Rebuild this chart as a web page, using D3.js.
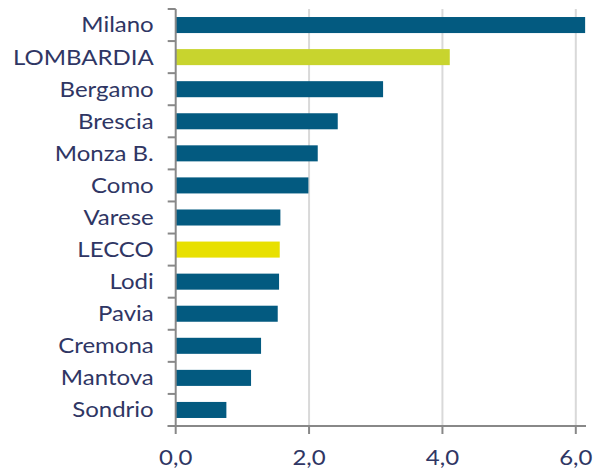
<!DOCTYPE html>
<html><head><meta charset="utf-8">
<script src="https://cdn.jsdelivr.net/npm/d3@7"></script>
<style>body{margin:0;background:#fff;} text{font-family:"Lato","Open Sans",sans-serif;font-weight:400;}</style>
</head><body><svg id="c" width="607" height="470"></svg>
<script>
const categories = ["Milano","LOMBARDIA","Bergamo","Brescia","Monza B.","Como","Varese","LECCO","Lodi","Pavia","Cremona","Mantova","Sondrio"];
const values = [6.14,4.11,3.11,2.43,2.13,1.99,1.57,1.56,1.55,1.53,1.28,1.13,0.76];
const tickValues = [0,2,4,6];
const highlight = {"LOMBARDIA":"#C8D42E","LECCO":"#E8E000"};

const svg = d3.select("#c");
const m = {left:175.7, top:9, right:586, bottom:426};
const x = d3.scaleLinear().domain([0,6.153]).range([m.left, m.right]);
const y = d3.scaleBand().domain(categories).range([m.top, m.bottom]).paddingInner(0.5).paddingOuter(0.25);
const yb = d3.scaleBand().domain(categories).range([m.top, m.bottom]);
const textCol = "#2F3664";
const sx = 1.17;

// gridlines
svg.append("g").selectAll("line").data(tickValues.filter(d=>d>0)).join("line")
  .attr("x1",d=>x(d)).attr("x2",d=>x(d)).attr("y1",m.top).attr("y2",m.bottom)
  .attr("stroke","#D9D9D9").attr("stroke-width",2);

// bars
svg.append("g").selectAll("rect").data(categories).join("rect")
  .attr("x",x(0)).attr("y",d=>y(d)).attr("height",y.bandwidth())
  .attr("width",(d,i)=>x(values[i])-x(0))
  .attr("fill",d=>highlight[d]||"#035A80");

// y axis
const yAxis = svg.append("g").attr("transform",`translate(${m.left},0)`);
yAxis.append("line").attr("x1",0).attr("x2",0).attr("y1",m.top).attr("y2",m.bottom).attr("stroke","#888").attr("stroke-width",2);
yAxis.selectAll("line.t").data(categories.concat(["_end"])).join("line").attr("class","t")
  .attr("x1",-8).attr("x2",0)
  .attr("y1",(d,i)=>m.top+i*yb.step()).attr("y2",(d,i)=>m.top+i*yb.step())
  .attr("stroke","#888").attr("stroke-width",2);
yAxis.selectAll("text").data(categories).join("text")
  .attr("transform",d=>`translate(-22,${yb(d)+yb.bandwidth()/2}) scale(${sx},1)`)
  .attr("dy","0.36em")
  .attr("text-anchor","end").attr("fill",textCol).attr("font-size",20.5).text(d=>d);

// x axis
const xAxis = svg.append("g").attr("transform",`translate(0,${m.bottom})`);
xAxis.append("line").attr("x1",m.left-8).attr("x2",m.right).attr("stroke","#888").attr("stroke-width",2);
xAxis.selectAll("line.t").data(tickValues).join("line").attr("class","t")
  .attr("x1",d=>x(d)).attr("x2",d=>x(d)).attr("y1",0).attr("y2",8)
  .attr("stroke","#888").attr("stroke-width",2);
xAxis.selectAll("text").data(tickValues).join("text")
  .attr("transform",d=>`translate(${x(d)},39) scale(${sx},1)`)
  .attr("text-anchor","middle").attr("fill",textCol).attr("font-size",20.5)
  .text(d=>d3.format(".1f")(d).replace(".",","));
</script></body></html>
